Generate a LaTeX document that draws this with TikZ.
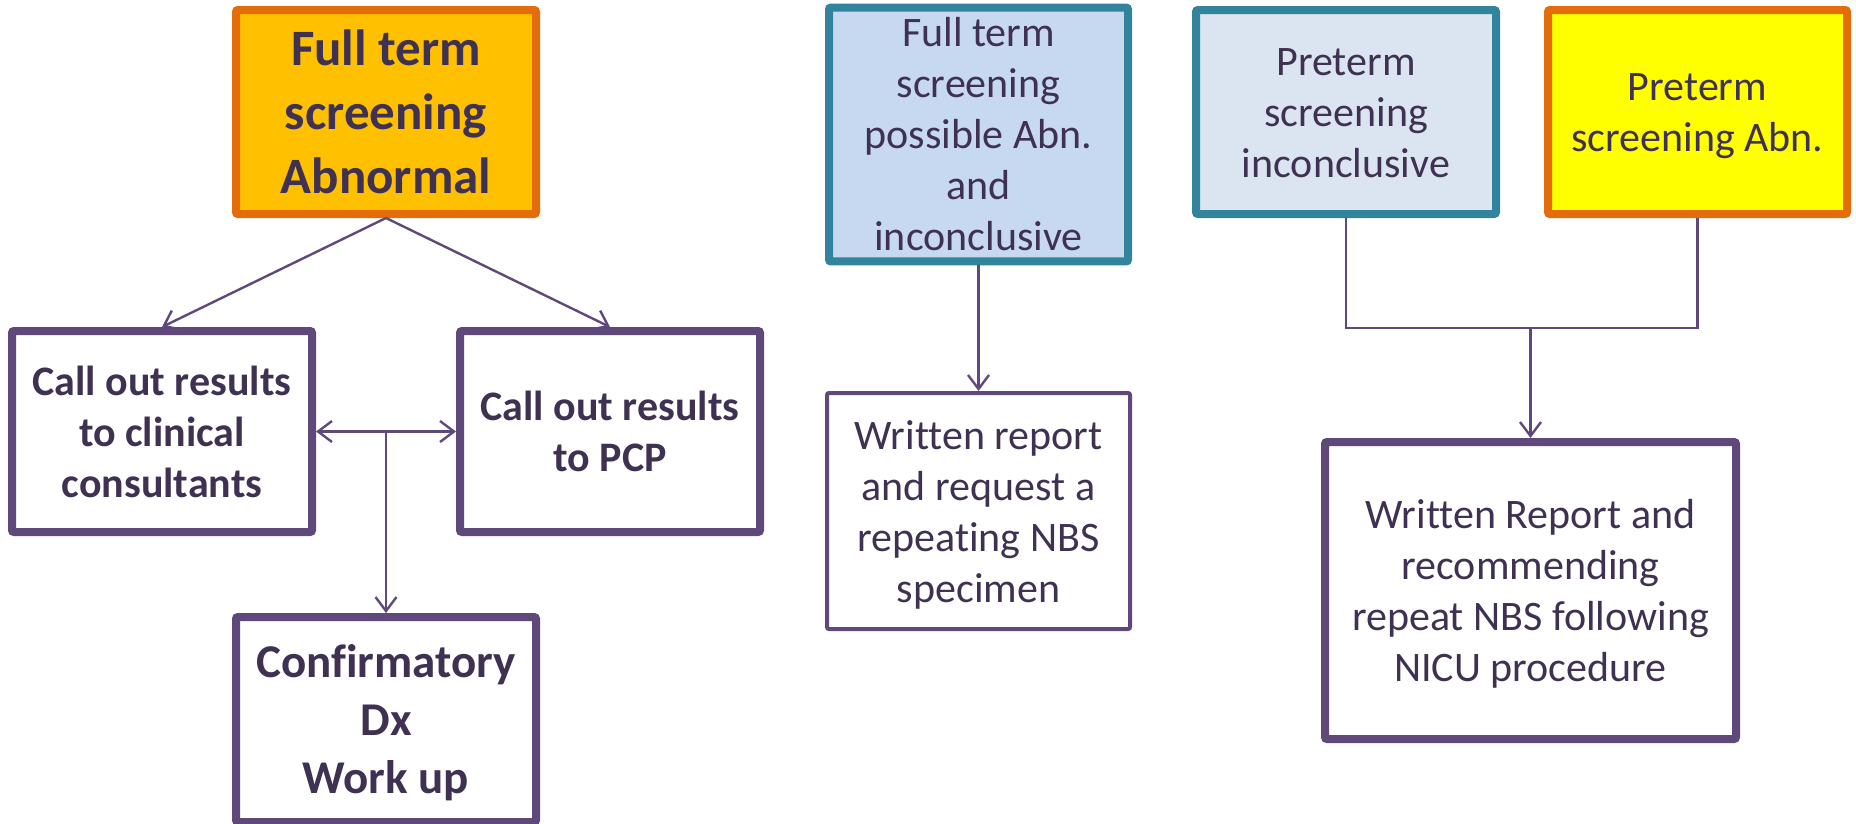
\documentclass[tikz,border=0pt]{standalone}
\usepackage{fontspec}
\setmainfont{Carlito}[Ligatures={NoCommon,NoRare,NoContextual}]
\usetikzlibrary{arrows.meta}
\definecolor{txt}{HTML}{3F3151}
\definecolor{plum}{HTML}{5F497A}
\definecolor{amber}{HTML}{FFC000}
\definecolor{rust}{HTML}{E46C0A}
\definecolor{teal}{HTML}{31849B}
\definecolor{skyfill}{HTML}{C6D9F1}
\definecolor{palefill}{HTML}{DBE5F1}
\definecolor{lemon}{HTML}{FFFF00}
% fixed ascent for the first line and fixed descent for the last one,
% so every block is centred the same way whatever its letters
\newcommand\topstrut{\rule{0pt}{0.94em}}
\newcommand\botstrut{\rule[-0.25em]{0pt}{0pt}}
\tikzset{
  box/.style={draw, line width=8pt, rounded corners=2pt, inner sep=0pt,
    align=center, text=txt, font=\fontsize{42}{51}\selectfont},
  boldbox/.style={box, font=\fontsize{42}{51}\selectfont\bfseries},
  tip/.tip={Straight Barb[length=14pt,width=21pt,line width=2.4pt]},
  link/.style={draw=plum, line width=2.4pt, -tip},
}
\begin{document}
\begin{tikzpicture}[x=1pt,y=-1pt]
\useasboundingbox (0,0) rectangle (1856,823);
% full term, abnormal result
\node[boldbox, draw=rust, fill=amber, minimum width=300pt, minimum height=204pt,
  font=\fontsize{51}{64}\selectfont\bfseries] (abn) at (386,112)
  {\topstrut Full term\\screening\\Abnormal\botstrut};
\node[boldbox, draw=plum, fill=white, minimum width=300pt, minimum height=201pt]
  (cons) at (162,431.5) {\topstrut Call out results\\to clinical\\consultants\botstrut};
\node[boldbox, draw=plum, fill=white, minimum width=300pt, minimum height=201pt]
  (pcp) at (610,431.5) {\topstrut Call out results\\to PCP\botstrut};
\node[boldbox, draw=plum, fill=white, minimum width=300pt, minimum height=205pt,
  font=\fontsize{47}{58}\selectfont\bfseries] (dx) at (386,719.5)
  {\topstrut Confirmatory\\Dx\\Work up\botstrut};
% full term, possible abnormal
\node[box, draw=teal, fill=skyfill, minimum width=299pt, minimum height=249pt]
  (poss) at (978.5,134.5) {\topstrut Full term\\screening\\possible Abn.\\and\\inconclusive\botstrut};
\node[box, draw=plum, fill=white, line width=4pt, minimum width=303pt, minimum height=236pt]
  (rep) at (978.5,511) {\topstrut Written report\\and request a\\repeating NBS\\specimen\botstrut};
% preterm
\node[box, draw=teal, fill=palefill, minimum width=300pt, minimum height=204pt]
  (pinc) at (1346,112) {\topstrut Preterm\\screening\\inconclusive\botstrut};
\node[box, draw=rust, fill=lemon, minimum width=299pt, minimum height=204pt]
  (pabn) at (1697.5,112) {\topstrut Preterm\\screening Abn.\botstrut};
\node[box, draw=plum, fill=white, minimum width=411pt, minimum height=297pt]
  (nicu) at (1530.5,590.5) {\topstrut Written Report and\\recommending\\repeat NBS following\\NICU procedure\botstrut};
% connectors
\draw[link] (abn.south) -- (cons.north);
\draw[link] (abn.south) -- (pcp.north);
\draw[link, tip-tip] (cons.east) -- (pcp.west);
\draw[link] (dx.north |- cons.east) -- (dx.north);
\draw[link] (poss.south) -- (rep.north);
\coordinate (join) at (nicu.north |- 0,328);
\draw[draw=plum, line width=2.4pt] (pinc.south) |- (join) -| (pabn.south);
\draw[link] (join) -- (nicu.north);
\end{tikzpicture}
\end{document}
